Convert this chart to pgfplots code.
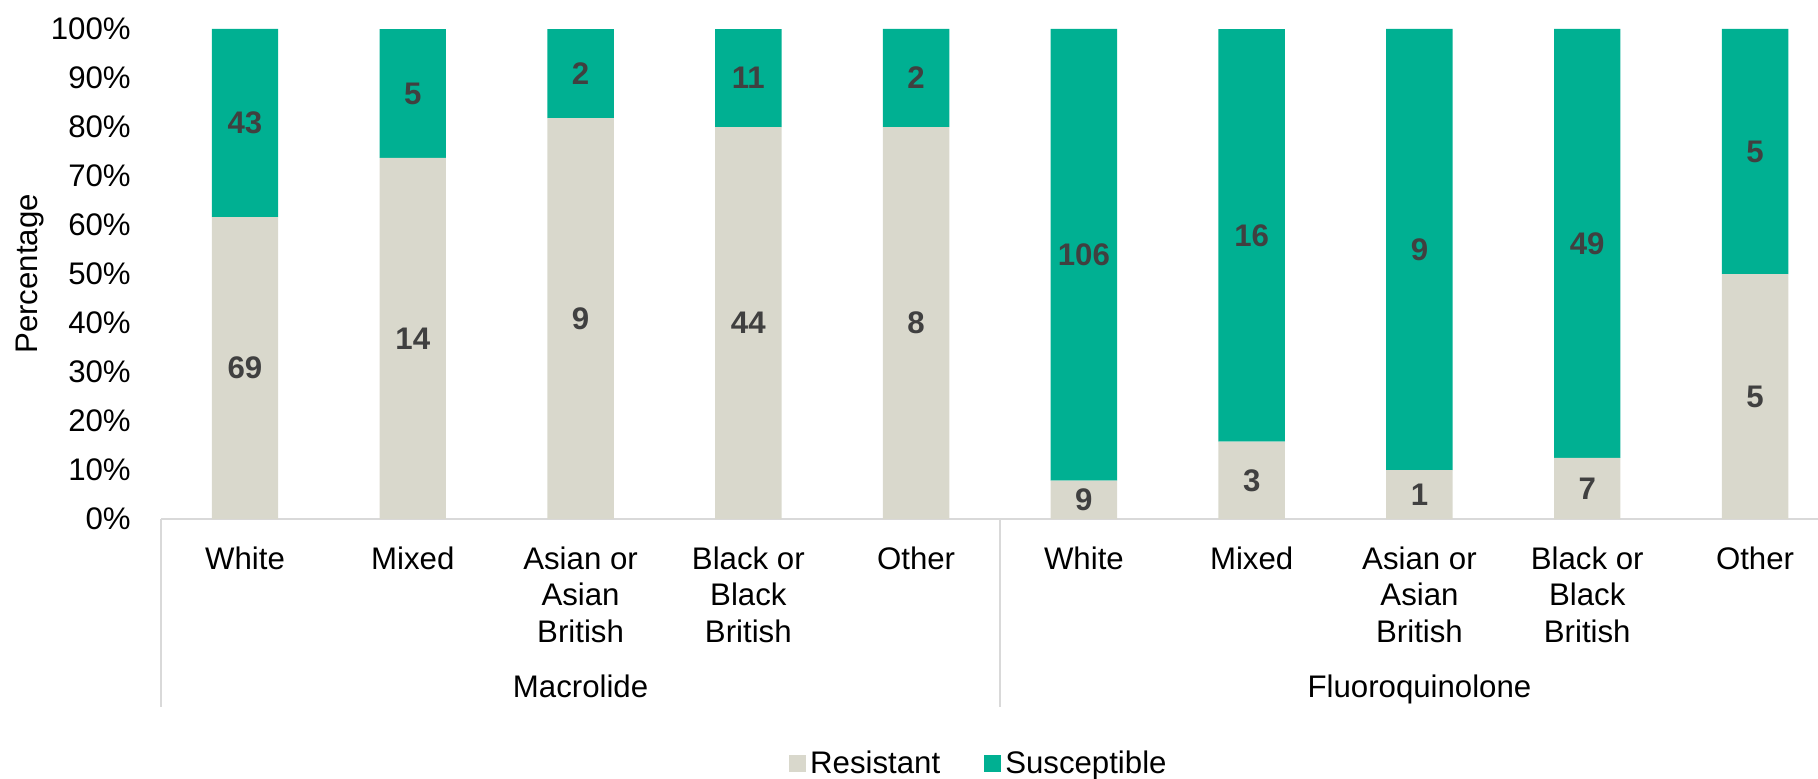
\documentclass[border=0pt]{standalone}
\usepackage{fontspec}
\setmainfont{Liberation Sans}
\usepackage{pgfplots}
\pgfplotsset{compat=1.18}
\usepackage{pgfplotstable}

\definecolor{resist}{RGB}{217,216,204}
\definecolor{suscep}{RGB}{0,176,146}
\definecolor{lbl}{RGB}{64,64,64}
\definecolor{axisgray}{RGB}{217,217,217}

% isolate counts: resistant and susceptible, per antibiotic class and ethnic group
\pgfplotstableread{
x res sus
0 69 43
1 14 5
2 9 2
3 44 11
4 8 2
5 9 106
6 3 16
7 1 9
8 7 49
9 5 5
}\counts

\newcommand{\chartfont}{\fontsize{15.6pt}{18.3pt}\selectfont}

\pgfplotsset{
  chartbox/.style={
    scale only axis, width=838.9pt, height=245pt,
    at={(80.55pt,129.5pt)}, anchor=south west,
    xmin=-0.5, xmax=9.5, ymin=0, ymax=100,
  },
}

\begin{document}
\begin{tikzpicture}
\path[use as bounding box] (0,0) rectangle (909pt,389pt);

\begin{axis}[
  chartbox,
  ybar stacked,
  bar width=0.396,
  clip=false,
  axis x line*=bottom,
  axis y line*=left,
  y axis line style={draw=none},
  x axis line style={axisgray, line width=1pt},
  tick style={draw=none},
  major tick length=0pt,
  xtick={0,...,9},
  xticklabels={White, Mixed, {Asian or\\Asian\\British}, {Black or\\Black\\British}, Other,
               White, Mixed, {Asian or\\Asian\\British}, {Black or\\Black\\British}, Other},
  xticklabel style={font=\chartfont, align=center, anchor=north, inner sep=0pt, yshift=-13.5pt},
  ytick={0,10,...,100},
  yticklabel={\pgfmathprintnumber{\tick}\%},
  yticklabel style={font=\chartfont, anchor=east, inner sep=0pt, xshift=-15pt},
  /pgf/number format/assume math mode=true,
  ylabel={Percentage},
  every axis y label/.style={at={(axis description cs:-0.0784,0.5)}, rotate=90, anchor=center,
                             font=\chartfont},
  legend columns=2,
  legend style={draw=none, fill=none, font=\chartfont,
                at={(axis description cs:0.488,-0.499)}, anchor=center,
                /tikz/every even column/.append style={column sep=20pt}},
  legend image code/.code={\fill[#1] (0pt,-4.25pt) rectangle (8.5pt,4.25pt);},
]
\addplot[fill=resist, draw=none]
  table[x=x, y expr={100*\thisrow{res}/(\thisrow{res}+\thisrow{sus})}] {\counts};
\addplot[fill=suscep, draw=none]
  table[x=x, y expr={100*\thisrow{sus}/(\thisrow{res}+\thisrow{sus})}] {\counts};
\legend{Resistant, Susceptible}

% group separators and group names below the category labels
\draw[axisgray, line width=1pt] (axis cs:-0.5,0) -- ++(0pt,-94pt);
\draw[axisgray, line width=1pt] (axis cs:4.5,0) -- ++(0pt,-94pt);
\draw[axisgray, line width=1pt] (axis cs:9.5,0) -- ++(0pt,-94pt);
\path (axis cs:2,0) ++(0pt,-89pt) node[anchor=base, font=\chartfont] {Macrolide};
\path (axis cs:7,0) ++(0pt,-89pt) node[anchor=base, font=\chartfont] {Fluoroquinolone};
\end{axis}

% counts written at the middle of each segment
\begin{axis}[
  chartbox,
  hide axis,
  clip=false,
  nodes near coords,
  point meta=explicit symbolic,
  nodes near coords align=center,
  every node near coord/.style={font=\chartfont\bfseries, text=lbl, anchor=center, inner sep=0pt},
]
\addplot[draw=none, mark=none]
  table[x=x, y expr={50*\thisrow{res}/(\thisrow{res}+\thisrow{sus})}, meta=res] {\counts};
\addplot[draw=none, mark=none]
  table[x=x, y expr={100*\thisrow{res}/(\thisrow{res}+\thisrow{sus})+50*\thisrow{sus}/(\thisrow{res}+\thisrow{sus})}, meta=sus] {\counts};
\end{axis}
\end{tikzpicture}
\end{document}
